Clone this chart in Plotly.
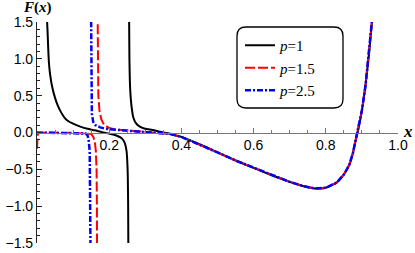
import plotly.graph_objects as go

# ---- data ----
# common right-hand part (x >= 0.37), all three curves coincide
main_x = [0.37, 0.40, 0.45, 0.50, 0.55, 0.60, 0.65, 0.70, 0.74, 0.77, 0.80, 0.83, 0.85,
          0.865, 0.875, 0.883, 0.89, 0.90, 0.91, 0.92, 0.93]
main_y = [-0.02, -0.06, -0.16, -0.27, -0.38, -0.48, -0.58, -0.67, -0.73, -0.76, -0.75, -0.68, -0.57,
          -0.44, -0.28, -0.10, 0.04, 0.30, 0.64, 1.08, 1.62]

# p = 1 (black)
p1_left_x = [0.027, 0.029, 0.031, 0.033, 0.036, 0.042, 0.05, 0.058, 0.066, 0.075, 0.085, 0.10, 0.12,
             0.14, 0.16, 0.18, 0.20, 0.22, 0.235, 0.243, 0.248, 0.251, 0.2525, 0.2535]
p1_left_y = [1.6, 1.4, 1.15, 0.95, 0.8, 0.62, 0.47, 0.36, 0.28, 0.21, 0.16, 0.12, 0.08,
             0.05, 0.03, 0.005, -0.015, -0.04, -0.08, -0.14, -0.25, -0.5, -1.0, -2.0]
p1_right_x = [0.2545, 0.256, 0.258, 0.262, 0.267, 0.275, 0.285, 0.30, 0.32, 0.34, 0.36]
p1_right_y = [2.0, 1.0, 0.6, 0.35, 0.2, 0.12, 0.08, 0.05, 0.035, 0.012, -0.008]

# p = 1.5 (red)
p15_left_x = [0.0, 0.002, 0.005, 0.03, 0.10, 0.13, 0.15, 0.156, 0.16, 0.163, 0.165, 0.166, 0.1665]
p15_left_y = [-0.22, -0.03, -0.005, 0.0, -0.005, -0.01, -0.02, -0.06, -0.12, -0.25, -0.5, -1.0, -2.0]
p15_right_x = [0.1672, 0.168, 0.17, 0.173, 0.178, 0.185, 0.20, 0.22, 0.25, 0.28, 0.31, 0.34]
p15_right_y = [2.0, 1.0, 0.5, 0.3, 0.18, 0.11, 0.06, 0.04, 0.03, 0.02, 0.005, -0.005]

# p = 2.5 (blue)
p25_left_x = [0.0, 0.05, 0.10, 0.125, 0.135, 0.14, 0.143, 0.146, 0.1475, 0.1483, 0.1488]
p25_left_y = [0.0, -0.003, -0.005, -0.008, -0.015, -0.04, -0.1, -0.25, -0.6, -1.2, -2.0]
p25_right_x = [0.1492, 0.1497, 0.1505, 0.152, 0.156, 0.162, 0.175, 0.19, 0.21, 0.24, 0.27, 0.30, 0.33]
p25_right_y = [2.0, 1.0, 0.5, 0.25, 0.14, 0.10, 0.07, 0.05, 0.04, 0.025, 0.015, 0.005, -0.005]

x_ticks = [0.2, 0.4, 0.6, 0.8, 1.0]
x_ticktext = ["0.2", "0.4", "0.6", "0.8", "1.0"]
y_ticks = [-1.5, -1.0, -0.5, 0.0, 0.5, 1.0, 1.5]
names = ["<i>p</i>=1", "<i>p</i>=1.5", "<i>p</i>=2.5"]

bx, by = p1_left_x + [None] + p1_right_x + main_x, p1_left_y + [None] + p1_right_y + main_y
rx, ry = p15_left_x + [None] + p15_right_x + main_x, p15_left_y + [None] + p15_right_y + main_y
ux, uy = p25_left_x + [None] + p25_right_x + main_x, p25_left_y + [None] + p25_right_y + main_y

fig = go.Figure()
fig.add_trace(go.Scatter(x=bx, y=by, mode="lines", name=names[0],
                         line=dict(color="black", width=2, shape="spline", smoothing=0.6),
                         hoverinfo="skip"))
fig.add_trace(go.Scatter(x=rx, y=ry, mode="lines", name=names[1],
                         line=dict(color="#ff0000", width=2, dash="10px,3px"), hoverinfo="skip"))
fig.add_trace(go.Scatter(x=ux, y=uy, mode="lines", name=names[2],
                         line=dict(color="#0000ff", width=2.5, dash="6px,2px,2px,2px"), hoverinfo="skip"))

tickfont = dict(family="Liberation Sans, Arial", size=14, color="black")

L, R, T, B = 37, 17, 22, 10
W, H = 415 - L - R, 253 - T - B

fig.update_layout(
    width=415, height=253,
    margin=dict(l=L, r=R, t=T, b=B, autoexpand=False),
    plot_bgcolor="white", paper_bgcolor="white",
    showlegend=True,
    legend=dict(x=(240 - L) / W, y=1 - (29 - T) / H, xanchor="left", yanchor="top",
                bgcolor="rgba(0,0,0,0)", borderwidth=0,
                font=dict(family="Liberation Serif, Times New Roman", size=15, color="black"),
                itemwidth=30, tracegroupgap=0),
    xaxis=dict(range=[0, 1], anchor="free", position=0.5, automargin=False,
               showline=True, linecolor="#777777", linewidth=1,
               tickmode="array", tickvals=x_ticks, ticktext=x_ticktext,
               ticks="inside", ticklen=5, tickcolor="#777777",
               minor=dict(ticks="inside", ticklen=3, dtick=0.05, tick0=0, tickcolor="#777777"),
               showgrid=False, zeroline=False, tickfont=tickfont),
    yaxis=dict(range=[-1.5, 1.5], automargin=False, showline=True, linecolor="#222222", linewidth=1.2,
               tickmode="array", tickvals=y_ticks, tickformat=".1f",
               ticks="inside", ticklen=5, tickcolor="#222222",
               minor=dict(ticks="inside", ticklen=3, dtick=0.1, tick0=0, tickcolor="#222222"),
               showgrid=False, zeroline=False, tickfont=tickfont),
)

# rounded legend frame
px0, px1 = (237 - L) / W, (343 - L) / W
py1, py0 = 1 - (27 - T) / H, 1 - (108 - T) / H
rx_, ry_ = 9 / W, 9 / H
path = (f"M{px0+rx_},{py1} L{px1-rx_},{py1} Q{px1},{py1} {px1},{py1-ry_} "
        f"L{px1},{py0+ry_} Q{px1},{py0} {px1-rx_},{py0} L{px0+rx_},{py0} "
        f"Q{px0},{py0} {px0},{py0+ry_} L{px0},{py1-ry_} Q{px0},{py1} {px0+rx_},{py1} Z")
fig.add_shape(type="path", path=path, xref="paper", yref="paper",
              line=dict(color="black", width=1.3), fillcolor="rgba(0,0,0,0)")

labfont = dict(family="Liberation Serif, Times New Roman", size=15, color="black")
fig.add_annotation(text="<b><i>F</i>(<i>x</i>)</b>", x=0, y=1 + (T - 7.5) / H,
                   xref="paper", yref="paper", showarrow=False, xanchor="center", yanchor="middle",
                   font=labfont)
fig.add_annotation(text="<b><i>x</i></b>", x=(408 - L) / W, y=0.5 + 1 / H,
                   xref="paper", yref="paper", showarrow=False, xanchor="center", yanchor="middle",
                   font=dict(family="Liberation Serif, Times New Roman", size=17, color="black"))

fig.write_html("out.html", config={"displayModeBar": False},
               post_script="document.body.style.margin='0';document.body.style.overflow='hidden';")
